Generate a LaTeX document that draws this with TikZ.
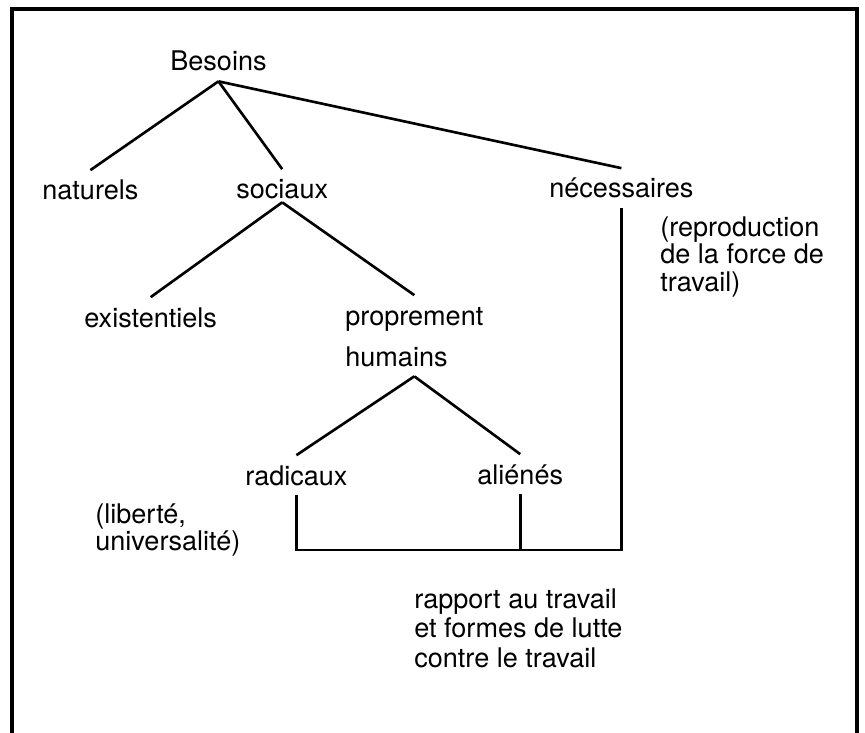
\documentclass[tikz,border=0pt]{standalone}
\usepackage{fontspec}
\setmainfont{TeX Gyre Heros}
\usepackage{tikz}
\usetikzlibrary{positioning,calc}

\begin{document}
\begin{tikzpicture}[x=0.02cm,y=-0.02cm,
    tree/.style={inner xsep=0pt,inner ysep=0.2cm,text height=0.39cm,text depth=0pt,anchor=base west,
      font=\fontsize{15.4pt}{16pt}\selectfont},
    note/.style={align=left,inner sep=0pt,anchor=north west,font=\fontsize{15.4pt}{15.8pt}\selectfont},
    branch/.style={line width=1.5pt},
    frame/.style={line width=2.8pt,line join=miter}]
    \useasboundingbox (0,0) rectangle (865,733);
    % Frame (open at the bottom)
    \draw[frame] (12,733) -- (12,9) -- (857,9) -- (857,733);

    % Tree of needs
    \node[tree] (besoins) at (170,71) {Besoins};
    \node[tree] (naturels) at (42,200) {naturels};
    \node[tree] (sociaux) at (236,199) {sociaux};
    \node[tree] (necessaires) at (549,198) {nécessaires};
    \node[tree] (existentiels) at (84,327) {existentiels};
    \node[tree] (proprement) at (345,325) {proprement};
    \node[tree] (humains) at (345,366) {humains};
    \node[tree] (radicaux) at (245,485) {radicaux};
    \node[tree] (alienes) at (477,484) {aliénés};

    % Notes
    \node[note] (reproduction) at (660,216) {(reproduction\\de la force de\\travail)};
    \node[note] (liberte) at (95,503) {(liberté,\\universalité)};
    \node[note,font=\fontsize{15.4pt}{17pt}\selectfont] (rapport) at (414,588)
      {rapport au travail\\et formes de lutte\\contre le travail};

    % Branches
    \draw[branch] (besoins.south) -- (naturels.north);
    \draw[branch] (besoins.south) -- (sociaux.north);
    \draw[branch] (besoins.south) -- (necessaires.north);
    \draw[branch] ([yshift=0.14cm]sociaux.south) -- (existentiels.north);
    \draw[branch] ([yshift=0.14cm]sociaux.south) -- (proprement.north);
    \draw[branch] (humains.south -| proprement.south) -- (radicaux.north);
    \draw[branch] (humains.south -| proprement.south) -- (alienes.north);

    % Link to work
    \coordinate (jonction) at (necessaires.south |- 0,550);
    \draw[branch] (radicaux.south) |- (jonction) -- (necessaires.south);
    \draw[branch] (alienes.south) -- (alienes.south |- jonction);
\end{tikzpicture}
\end{document}
